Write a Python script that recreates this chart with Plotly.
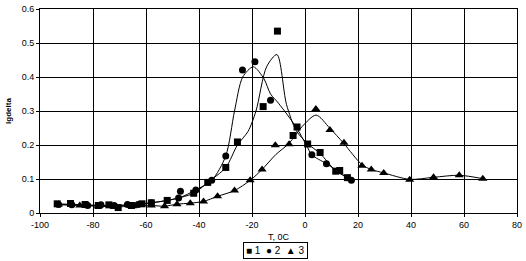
import plotly.graph_objects as go

# Series 1 (squares)
t1 = [-93.5, -88.5, -83, -78, -74, -70.5, -65.5, -61.5, -58, -52, -42, -36.7, -29.9, -25.5, -15.8, -10.4, -4.5, -3.0, 1.0, 5.7, 11.6, 13.1, 16.0]
v1 = [0.027, 0.028, 0.025, 0.022, 0.024, 0.016, 0.022, 0.027, 0.030, 0.037, 0.058, 0.090, 0.134, 0.209, 0.313, 0.535, 0.228, 0.253, 0.203, 0.178, 0.123, 0.125, 0.104]
# Series 2 (circles)
t2 = [-93, -88, -82, -77, -72, -67, -63, -58, -47.7, -47, -41.2, -35.2, -29.9, -23.6, -18.9, -13.0, 2.6, 8.1, 17.5]
v2 = [0.025, 0.024, 0.022, 0.024, 0.022, 0.025, 0.025, 0.030, 0.044, 0.064, 0.068, 0.096, 0.168, 0.421, 0.445, 0.332, 0.171, 0.145, 0.096]
# Series 3 (triangles)
t3 = [-93, -85, -78, -72, -65, -58, -53, -48.3, -43.3, -38.3, -33, -26.6, -20.7, -16.2, -11.2, -6.0, 4.1, 9.4, 14.7, 21.5, 25, 29.7, 39.5, 48.5, 58.2, 67.1]
v3 = [0.025, 0.022, 0.020, 0.018, 0.020, 0.022, 0.020, 0.026, 0.029, 0.034, 0.049, 0.066, 0.096, 0.128, 0.199, 0.202, 0.306, 0.244, 0.207, 0.139, 0.128, 0.118, 0.098, 0.105, 0.111, 0.101]

# Smoothed fit curves
f1_t = [-93.5, -83, -73, -65, -58, -52, -42, -36.7, -29.9, -25.5, -21.5, -18.5, -14.5, -10.6, -7, -3.3, 1.0, 5.7, 11.6, 16.0]
f1_v = [0.027, 0.024, 0.022, 0.024, 0.030, 0.037, 0.058, 0.090, 0.134, 0.200, 0.240, 0.300, 0.430, 0.466, 0.320, 0.242, 0.204, 0.175, 0.124, 0.104]
f2_t = [-93, -82, -72, -63, -58, -47.7, -41.2, -35.2, -29.9, -26.6, -23.5, -19.5, -15.5, -13, -10, -3.3, 0.5, 2.6, 8.1, 17.5]
f2_v = [0.025, 0.022, 0.022, 0.025, 0.030, 0.044, 0.068, 0.096, 0.168, 0.300, 0.400, 0.430, 0.395, 0.350, 0.323, 0.252, 0.200, 0.171, 0.145, 0.096]
f3_t = [-93, -85, -78, -72, -65, -58, -53, -48.3, -43.3, -38.3, -33, -26.6, -20.7, -16.2, -11, -6, -1, 4.2, 9.3, 14.6, 21.5, 25, 29.7, 39.5, 48.5, 58.2, 67.1]
f3_v = [0.025, 0.022, 0.020, 0.018, 0.020, 0.022, 0.020, 0.026, 0.029, 0.034, 0.049, 0.066, 0.096, 0.128, 0.172, 0.205, 0.255, 0.288, 0.250, 0.205, 0.142, 0.128, 0.118, 0.099, 0.105, 0.111, 0.101]

x_ticks = [-100, -80, -60, -40, -20, 0, 20, 40, 60, 80]
x_labels = ["-100", "-80", "-60", "-40", "-20", "0", "20", "40", "60", "80"]
y_ticks = [0, 0.1, 0.2, 0.3, 0.4, 0.5, 0.6]
y_labels = ["0", "0.1", "0.2", "0.3", "0.4", "0.5", "0.6"]

fig = go.Figure()
for ft, fv in [(f1_t, f1_v), (f2_t, f2_v), (f3_t, f3_v)]:
    fig.add_trace(go.Scatter(x=ft, y=fv, mode="lines", line=dict(color="black", width=1, shape="spline", smoothing=0.8),
                             showlegend=False, hoverinfo="skip"))
fig.add_trace(go.Scatter(x=t1, y=v1, mode="markers", name="1", marker=dict(symbol="square", size=7, color="black")))
fig.add_trace(go.Scatter(x=t2, y=v2, mode="markers", name="2", marker=dict(symbol="circle", size=7, color="black")))
fig.add_trace(go.Scatter(x=t3, y=v3, mode="markers", name="3", marker=dict(symbol="triangle-up", size=8, color="black")))

font = dict(family="Liberation Sans, Arial, sans-serif", size=9, color="black")
axis_common = dict(showgrid=True, gridcolor="#000000", gridwidth=1, showline=True, linecolor="#000000",
                   linewidth=1, mirror=True, zeroline=False, ticks="outside", ticklen=3, tickcolor="#000000",
                   layer="below traces")
fig.update_layout(
    width=526, height=261,
    margin=dict(l=40, r=6, t=4, b=48),
    paper_bgcolor="white", plot_bgcolor="white",
    font=font, showlegend=False,
    xaxis=dict(range=[-100, 80], tickvals=x_ticks, ticktext=x_labels,
               title=dict(text="T, 0C", font=font, standoff=4), **axis_common),
    yaxis=dict(range=[0, 0.6001], tickvals=y_ticks, ticktext=y_labels,
               title=dict(text="<b>lgdelta</b>", font=dict(family="Liberation Sans, Arial, sans-serif", size=8, color="black"), standoff=8),
               **axis_common),
    annotations=[dict(text="■ 1  ● 2  ▲ 3", xref="paper", yref="paper", x=0.493, y=-0.14,
                      xanchor="center", yanchor="top", showarrow=False, bordercolor="black", borderwidth=1,
                      borderpad=2, font=dict(family="Liberation Sans, Arial, sans-serif", size=10, color="black"))],
)
fig.write_html("out.html", config={"displayModeBar": False},
               post_script="document.body.style.margin='0';document.body.style.padding='0';")
